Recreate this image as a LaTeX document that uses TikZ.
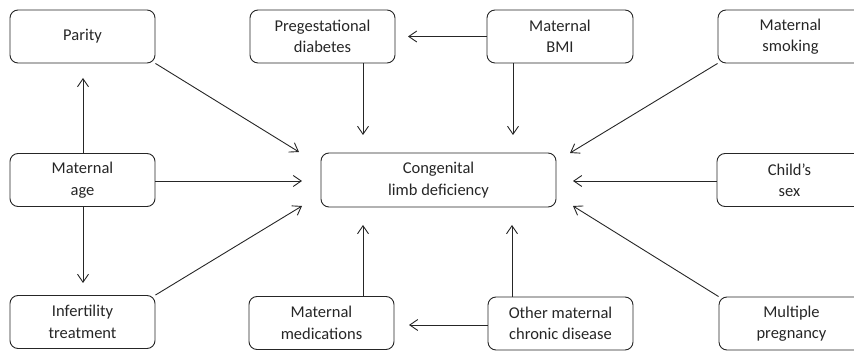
\documentclass[tikz,border=0pt]{standalone}
\usepackage{fontspec}
\setmainfont{Carlito}
\usetikzlibrary{arrows.meta}
\begin{document}
\begin{tikzpicture}[x=1pt,y=-1pt,
  box/.style={draw=black!85, line width=0.9pt, rounded corners=8pt, minimum width=145pt, minimum height=53pt, inner sep=0pt, align=center, text=black!85, font=\fontsize{16.5}{21.5}\selectfont},
  conn/.style={draw=black!85, line width=0.9pt, -{Straight Barb[length=8pt,width=11pt,line width=0.9pt]}}]
\useasboundingbox (0,0) rectangle (854,352);
\begin{scope}
\clip (0,0) rectangle (854,352);
\node[box] (parity) at (82.5,36.5) {Parity};
\node[box] (preg) at (322.5,36.5) {Pregestational\\diabetes};
\node[box, minimum width=146pt] (bmi) at (560,36.5) {Maternal\\BMI};
\node[box] (smoking) at (790.5,36.5) {Maternal\\smoking};
\node[box] (age) at (82.5,180) {Maternal\\age};
\node[box, minimum width=235pt, minimum height=54pt] (cong) at (438.5,180) {Congenital\\limb deficiency};
\node[box] (child) at (789.5,180) {Child’s\\sex};
\node[box] (infert) at (82.5,322) {Infertility\\treatment};
\node[box] (meds) at (321.5,323) {Maternal\\medications};
\node[box] (other) at (560.5,323.5) {Other maternal\\chronic disease};
\node[box] (multiple) at (791.5,323.5) {Multiple\\pregnancy};
\end{scope}
% arrow tips
\coordinate (tParity) at (299,152);
\coordinate (tAge) at (302,181);
\coordinate (tInf) at (302,206);
\coordinate (tUp) at (83,78);
\coordinate (tDown) at (83,283);
\coordinate (tPreg) at (363,135);
\coordinate (tBmi) at (513,135);
\coordinate (tBmiPreg) at (408,36.5);
\coordinate (tSmoke) at (570,153);
\coordinate (tChild) at (573,181);
\coordinate (tMult) at (573,206);
\coordinate (tMeds) at (363,225);
\coordinate (tOther) at (512,225);
\coordinate (tOtherMeds) at (409,325);

\draw[conn] (parity.south east) -- (tParity);
\draw[conn] (age.east |- tAge) -- (tAge);
\draw[conn] (infert.north east) -- (tInf);
\draw[conn] (age.north -| tUp) -- (tUp);
\draw[conn] (age.south -| tDown) -- (tDown);
\draw[conn] (preg.south -| tPreg) -- (tPreg);
\draw[conn] (bmi.south -| tBmi) -- (tBmi);
\draw[conn] (bmi.west) -- (tBmiPreg);
\draw[conn] (smoking.south west) -- (tSmoke);
\draw[conn] (child.west |- tChild) -- (tChild);
\draw[conn] (multiple.north west) -- (tMult);
\draw[conn] (meds.north -| tMeds) -- (tMeds);
\draw[conn] (other.north -| tOther) -- (tOther);
\draw[conn] (other.west |- tOtherMeds) -- (tOtherMeds);
\end{tikzpicture}
\end{document}
